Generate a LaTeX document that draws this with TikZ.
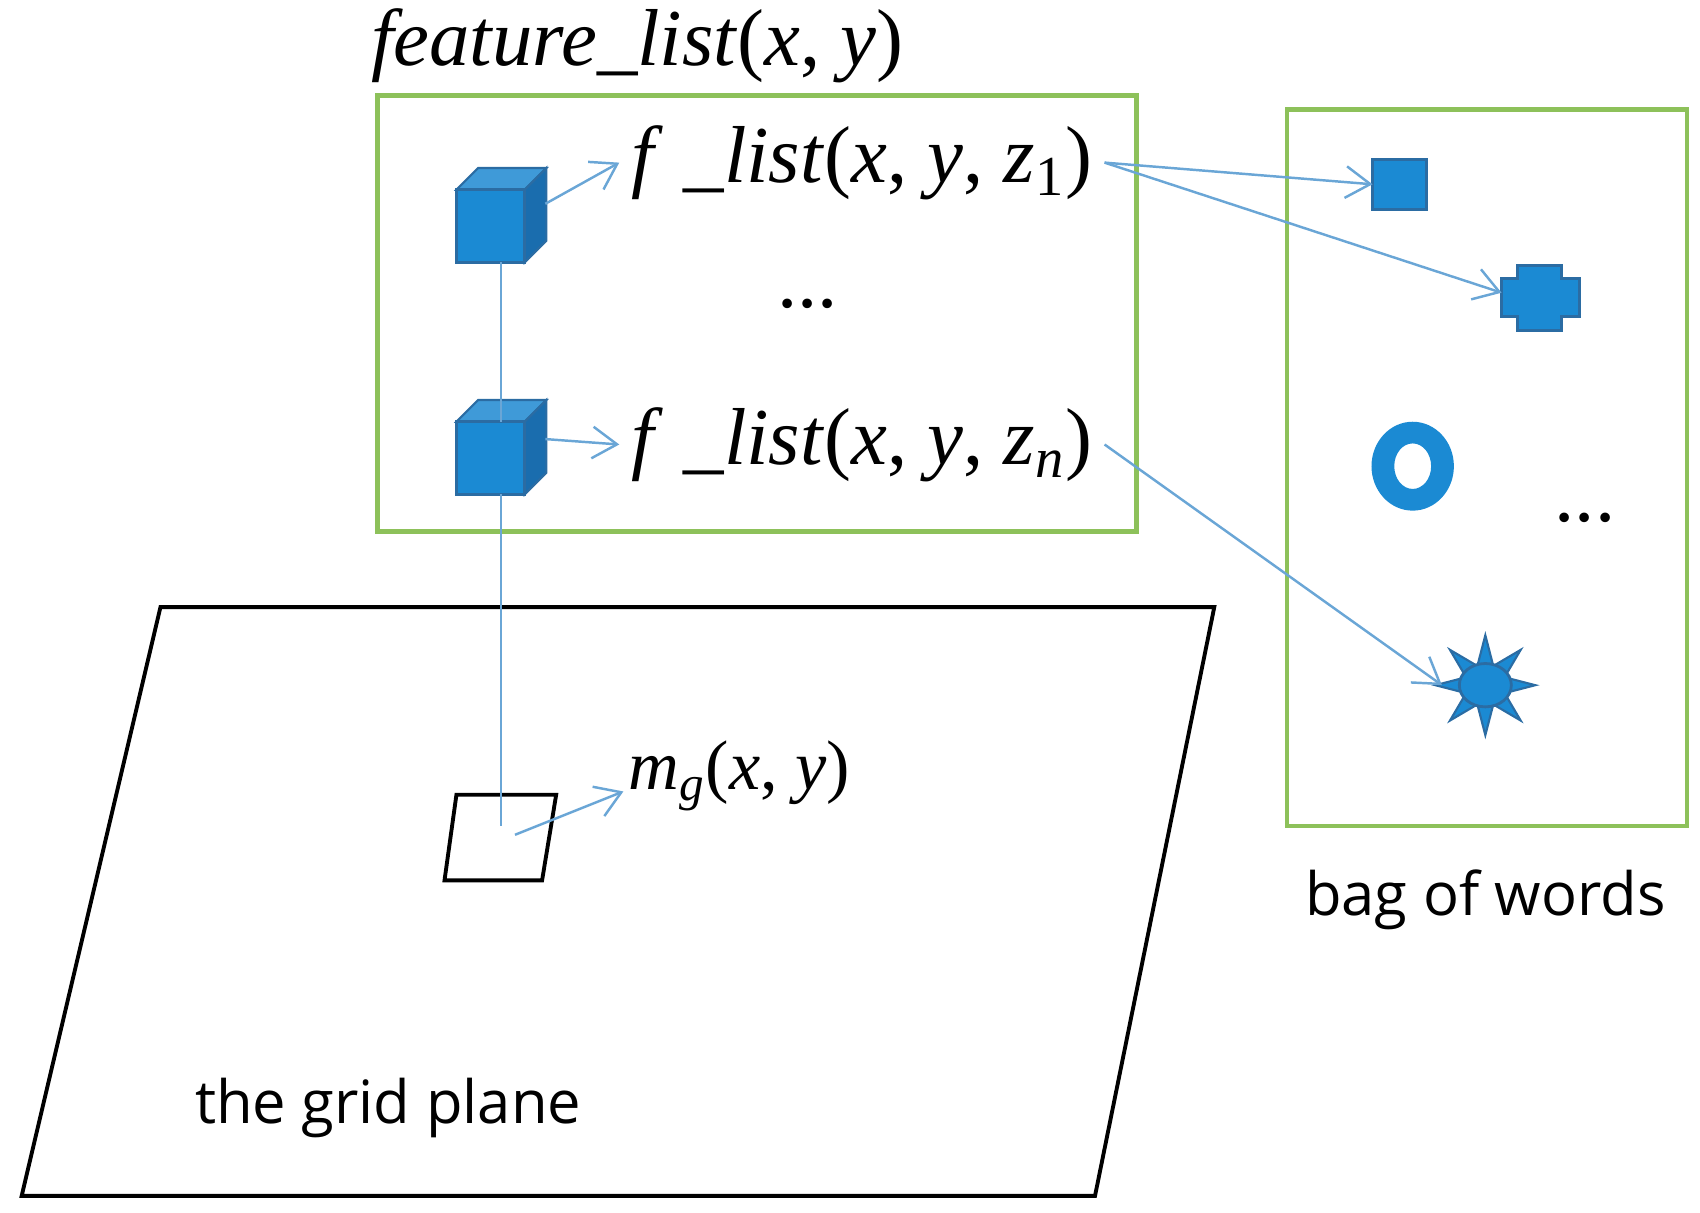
\documentclass[tikz,border=0pt]{standalone}
\usepackage{fontspec}
\setmainfont{Liberation Serif}
\newfontfamily\sansf{Open Sans}
\usetikzlibrary{arrows.meta,shapes.geometric}
\definecolor{bfill}{HTML}{1B8AD3}
\definecolor{bedge}{HTML}{2B6CA3}
\definecolor{bdark}{HTML}{1A6DAE}
\definecolor{btop}{HTML}{3F9AD8}
\definecolor{gbox}{HTML}{8DC15A}
\definecolor{arr}{HTML}{6AA6D6}
\newcommand{\iv}[1]{\textit{#1}}
\begin{document}
\begin{tikzpicture}[x=0.010842cm,y=-0.010842cm,
  gb/.style={draw=gbox,line width=1.3pt},
  ar/.style={draw=arr,line width=0.7pt,-{Straight Barb[length=7pt,width=9pt]}},
  ln/.style={draw=arr,line width=0.7pt},
  math/.style={font=\fontsize{23}{26}\selectfont},
  sans/.style={font=\sansf\fontsize{17}{20}\selectfont},
  shp/.style={fill=bfill,draw=bedge,line width=0.8pt}]
\useasboundingbox (0,0) rectangle (1568,1118);
% boxes
\draw[gb] (348,88) rectangle (1048,490);
\draw[gb] (1187,101) rectangle (1556,762);
\node[math] (title) at (588,42) {\iv{feature\_list}(\iv{x}, \iv{y})};
% plane
\draw[black,line width=1.1pt] (148,560) -- (1120,560) -- (1010,1103) -- (20,1103) -- cycle;
\node[sans] (plane) at (358,1022) {the grid plane};
\node[sans] (bow) at (1370,830) {bag of words};
% cell
\draw[black,line width=1.1pt] (421,733) -- (513,733) -- (500,812) -- (410,812) -- cycle;
\coordinate (cell) at (462,762);
\coordinate (cellr) at (475,770);
\node[font=\fontsize{20}{23}\selectfont] (mg) at (682,716) {\iv{m}\textsubscript{\iv{g}}(\iv{x}, \iv{y})};
% cubes
\foreach \n/\yy in {c1/175,c2/389}{
  \fill[btop,draw=bedge,line width=0.6pt] (421,\yy) -- (441,\yy-20) -- (504,\yy-20) -- (484,\yy) -- cycle;
  \fill[bdark,draw=bedge,line width=0.6pt] (484,\yy) -- (504,\yy-20) -- (504,\yy+47) -- (484,\yy+67) -- cycle;
  \draw[shp] (421,\yy) rectangle (484,\yy+67);
  \coordinate (\n t) at (462,\yy);
  \coordinate (\n b) at (462,\yy+67);
}
\coordinate (c1r) at (503,188);
\coordinate (c2r) at (503,405);
\draw[ln] (c1b) -- (c2t);
\draw[ln] (c2b) -- (cell);
\node[math] (f1) at (795,150) {\iv{f} \_\iv{list}(\iv{x}, \iv{y}, \iv{z}\textsubscript{1})};
\node[math] (fn) at (795,410) {\iv{f} \_\iv{list}(\iv{x}, \iv{y}, \iv{z}\textsubscript{\iv{n}})};
\node[math] (dots) at (745,280) {...};
\draw[ar] (c1r) -- (f1.west);
\draw[ar] (c2r) -- (fn.west);
\draw[ar] (cellr) -- (575,730);
% bag shapes
\draw[shp] (1266,147) rectangle (1316,193);
\coordinate (sqw) at (1266,170);
\draw[shp] (1400,245) -- (1440,245) -- (1440,257) -- (1457,257) -- (1457,292) -- (1440,292) -- (1440,305) -- (1400,305) -- (1400,292) -- (1385,292) -- (1385,257) -- (1400,257) -- cycle;
\coordinate (crw) at (1385,270);
\fill[bfill,even odd rule] (1303,430) ellipse [x radius=38,y radius=41] (1303,430) ellipse [x radius=17,y radius=21];
\node[star,star points=8,star point ratio=2.4,fill=bfill,draw=bedge,line width=0.6pt,inner sep=0pt,minimum size=1cm] (st) at (1370,632) {};
\draw[shp] (1370,632) ellipse [x radius=24,y radius=20];
\coordinate (stw) at (1330,632);
\node[math] (dots2) at (1462,478) {...};
\draw[ar] (f1.east) -- (sqw);
\draw[ar] (f1.east) -- (crw);
\draw[ar] (fn.east) -- (stw);
\end{tikzpicture}
\end{document}
